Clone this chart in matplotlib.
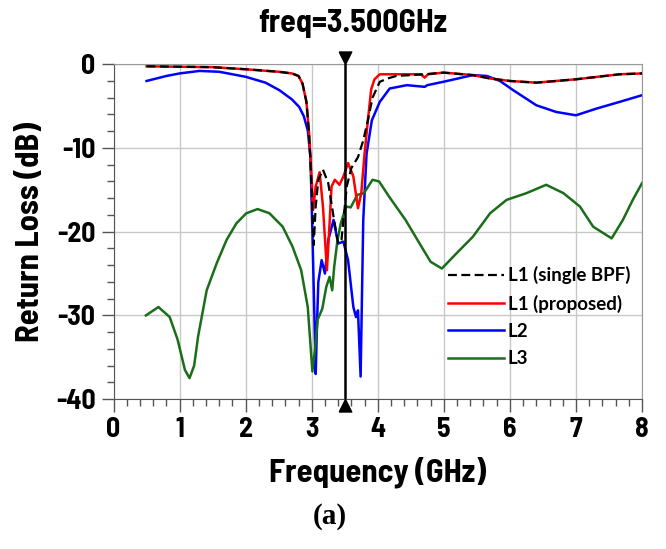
import matplotlib
matplotlib.use("Agg")
import matplotlib.pyplot as plt
from matplotlib.path import Path
from matplotlib.ticker import MultipleLocator

plt.rcParams['axes.unicode_minus'] = False

# Return loss traces (GHz, dB)
freq_bpf = [0.5, 1.0, 1.5, 2.0, 2.5, 2.7, 2.8, 2.86, 2.92, 2.96, 3.0, 3.03, 3.06, 3.1,
            3.17, 3.25, 3.33, 3.40, 3.45, 3.53, 3.60, 3.70, 3.78, 3.85, 3.92, 4.03, 4.15,
            4.28, 4.71, 4.99, 5.44, 5.70, 6.0, 6.40, 7.0, 7.66, 8.0]
rl_bpf = [-0.25, -0.3, -0.35, -0.6, -0.9, -1.1, -1.4, -2.3, -4.5, -8.3, -15, -21.6, -17, -13.8,
          -12.6, -14.2, -18.2, -21.4, -21.0, -14.6, -12.4, -11.1, -9.1, -6.7, -4.0, -2.1, -1.7,
          -1.4, -1.2, -1.0, -1.3, -1.7, -2.0, -2.2, -1.8, -1.2, -1.1]

freq_prop = [0.5, 1.0, 1.5, 2.0, 2.5, 2.7, 2.8, 2.86, 2.92, 2.96, 3.0, 3.02, 3.06, 3.12,
             3.17, 3.23, 3.27, 3.30, 3.35, 3.42, 3.48, 3.55, 3.63, 3.70, 3.75, 3.80, 3.85,
             3.90, 3.95, 4.03, 4.3, 4.65, 4.71, 4.76, 5.0, 5.44, 5.70, 6.0, 6.40, 7.0, 7.66, 8.0]
rl_prop = [-0.25, -0.3, -0.35, -0.6, -0.9, -1.1, -1.4, -2.3, -4.5, -8.3, -14, -17.4, -14.6, -12.9,
           -17, -24.6, -19, -14.6, -13.8, -14.4, -13.4, -11.8, -13.4, -17.2, -15.4, -10.7, -6.7,
           -3.0, -1.8, -1.2, -1.2, -1.2, -1.6, -1.2, -1.0, -1.3, -1.7, -2.0, -2.2, -1.8, -1.2, -1.1]

freq_l2 = [0.5, 0.8, 1.0, 1.3, 1.6, 2.0, 2.3, 2.51, 2.7, 2.81, 2.88, 2.94, 2.98, 3.01, 3.04,
           3.06, 3.08, 3.10, 3.15, 3.20, 3.25, 3.33, 3.40, 3.48, 3.55, 3.63, 3.67, 3.70, 3.74,
           3.78, 3.83, 3.91, 4.03, 4.18, 4.44, 4.71, 4.75, 4.99, 5.44, 5.65, 5.85, 6.05, 6.40,
           6.70, 7.0, 7.31, 7.66, 8.0]
rl_l2 = [-2.0, -1.4, -1.1, -0.8, -0.9, -1.5, -2.2, -3.1, -4.2, -5.1, -6.2, -7.9, -11, -20, -30,
         -37, -31, -26, -23.4, -25.0, -21.0, -18.6, -21.4, -21.2, -23.4, -29.0, -30.2, -29.4, -37.3,
         -18.6, -10.7, -6.7, -4.5, -2.9, -2.5, -2.7, -2.5, -2.1, -1.3, -1.4, -2.0, -3.1, -4.9,
         -5.7, -6.1, -5.3, -4.5, -3.7]

freq_l3 = [0.49, 0.68, 0.85, 0.97, 1.08, 1.15, 1.22, 1.28, 1.41, 1.56, 1.71, 1.86, 2.01, 2.18,
           2.36, 2.56, 2.71, 2.84, 2.94, 3.01, 3.05, 3.09, 3.16, 3.22, 3.27, 3.31, 3.34, 3.39,
           3.44, 3.52, 3.59, 3.69, 3.79, 3.92, 4.02, 4.17, 4.42, 4.67, 4.80, 4.97, 5.19, 5.44,
           5.70, 5.95, 6.25, 6.55, 6.81, 7.06, 7.26, 7.54, 7.71, 7.86, 8.0]
rl_l3 = [-30.0, -29.0, -30.2, -32.9, -36.5, -37.5, -36, -32.5, -27.0, -23.8, -21.0, -19.0, -17.8,
         -17.3, -17.8, -19.4, -21.8, -24.6, -29.0, -36.7, -34, -30.5, -29.2, -26.6, -25.4, -27.0,
         -24.2, -21.0, -19.0, -17.0, -17.1, -15.6, -15.4, -13.8, -14.0, -15.8, -18.6, -21.9, -23.6,
         -24.4, -22.6, -20.6, -17.8, -16.2, -15.4, -14.4, -15.4, -17.0, -19.4, -20.8, -18.6,
         -16.2, -14.2]

marker_freq = 3.5

axis_font = ['Barlow Semi Condensed', 'Liberation Sans', 'DejaVu Sans']

fig = plt.figure(figsize=(6.66, 5.49), dpi=100)
ax = fig.add_axes([0.1705, 0.273, 0.7935, 0.610])

ax.plot(freq_bpf, rl_bpf, color='black', lw=1.6, dashes=(4, 2), zorder=4, label='L1 (single BPF)')
ax.plot(freq_prop, rl_prop, color='#ff0000', lw=1.8, zorder=3, label='L1 (proposed)')
ax.plot(freq_l2, rl_l2, color='#0000ff', lw=1.8, zorder=2, label='L2')
ax.plot(freq_l3, rl_l3, color='#1a6e1a', lw=1.8, zorder=2, label='L3')

# marker line with triangles at both ends
ax.axvline(marker_freq, color='black', lw=1.8, zorder=5)
tri_down = Path([(-0.5, 1.0), (0.5, 1.0), (0.0, 0.0), (-0.5, 1.0)])
tri_up = Path([(-0.5, -1.0), (0.5, -1.0), (0.0, 0.0), (-0.5, -1.0)])
ax.plot([marker_freq], [0], marker=tri_down, ms=18, color='black', clip_on=False, zorder=6)
ax.plot([marker_freq], [-40], marker=tri_up, ms=18, color='black', clip_on=False, zorder=6)

ax.set_xlim(0, 8)
ax.set_ylim(-40, 0)
ax.xaxis.set_major_locator(MultipleLocator(1))
ax.xaxis.set_minor_locator(MultipleLocator(0.2))
ax.yaxis.set_major_locator(MultipleLocator(10))
ax.yaxis.set_minor_locator(MultipleLocator(2))
ax.tick_params(which='major', direction='out', length=9, width=1, color='#555555', pad=4)
ax.tick_params(which='minor', direction='out', length=5, width=1, color='#555555')
ax.grid(True, which='major', color='#c8c8c8', lw=1)
for s in ['top', 'right']:
    ax.spines[s].set_color('#999999')
for s in ['left', 'bottom']:
    ax.spines[s].set_color('#555555')

for lab in ax.get_xticklabels() + ax.get_yticklabels():
    lab.set_family(axis_font)
    lab.set_fontweight('bold')
    lab.set_fontsize(20)

ax.set_xlabel('Frequency (GHz)', family=axis_font, fontweight='bold', fontsize=23.5, labelpad=10)
ax.set_ylabel('Return Loss (dB)', family=axis_font, fontweight='bold', fontsize=23.5, labelpad=8)

fig.text(353 / 666, 1 - 24 / 549, 'freq=3.500GHz', family=axis_font, fontweight='bold',
         fontsize=23, ha='center', va='center')
fig.text(330 / 666, 1 - 516 / 549, '(a)', family=['Liberation Serif', 'DejaVu Serif'],
         fontweight='bold', fontsize=21, ha='center', va='center')

leg = ax.legend(loc='upper left', bbox_to_anchor=(0.615, 0.425), frameon=False,
                handlelength=3.0, handletextpad=0.2, labelspacing=0.55, borderpad=0,
                prop={'family': ['Lato', 'DejaVu Sans'], 'weight': 'bold', 'size': 13.5})

fig.savefig('out.png', dpi=100)
